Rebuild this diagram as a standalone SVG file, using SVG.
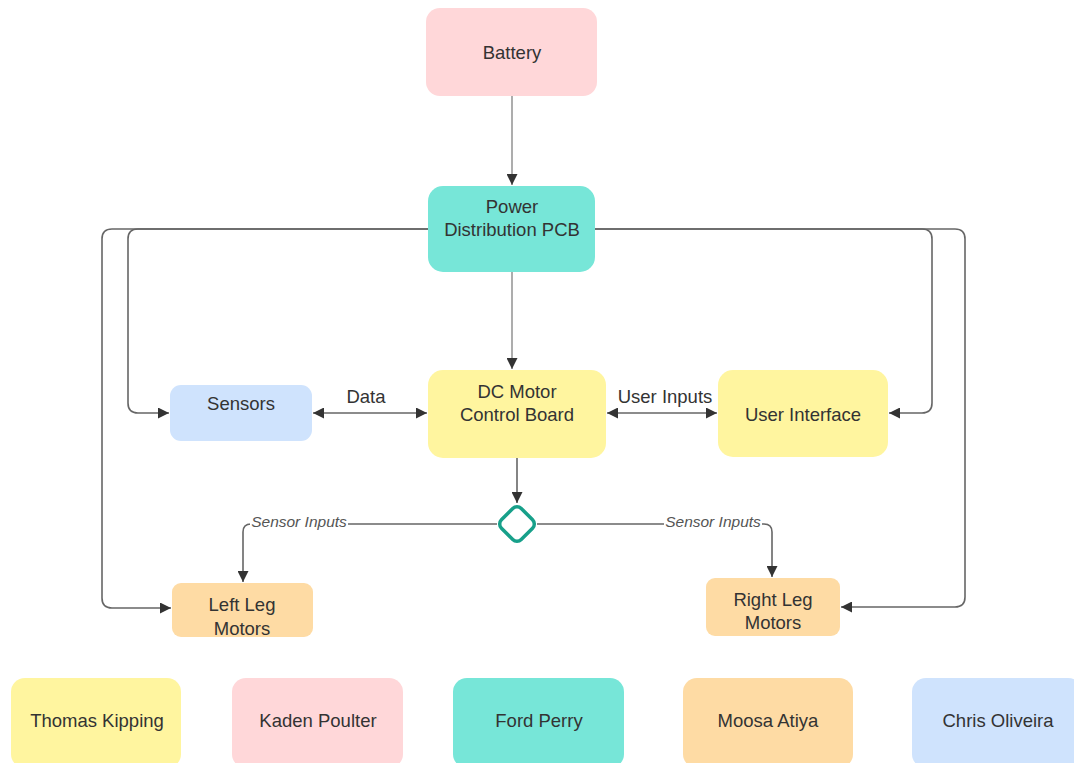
<svg xmlns="http://www.w3.org/2000/svg" width="1074" height="763" viewBox="0 0 1074 763">
<defs>
<style>
.lbl{font-family:"Liberation Sans",Arial,sans-serif;font-size:18.5px;fill:#333;text-anchor:middle;dominant-baseline:central}
.it{font-family:"Liberation Sans",Arial,sans-serif;font-size:15.5px;font-style:italic;fill:#555;text-anchor:middle;dominant-baseline:central}
.ln{fill:none;stroke:#666;stroke-width:1.6}
.lt{fill:none;stroke:#999;stroke-width:1.6}
.pink{fill:#ffd7d9}.teal{fill:#77e6d8}.yel{fill:#fff59f}.blue{fill:#cfe3fd}.org{fill:#fedba4}
</style>
<marker id="ah" viewBox="0 0 10 10" refX="10" refY="5" markerWidth="13" markerHeight="11" markerUnits="userSpaceOnUse" orient="auto-start-reverse">
<path d="M0,0 L10,5 L0,10 Z" fill="#333"/>
</marker>
</defs>
<rect width="1074" height="763" fill="#fff"/>
<g id="connectors">
<path class="lt" d="M512,96 L512,185" marker-end="url(#ah)"/>
<path class="lt" d="M512,272 L512,369" marker-end="url(#ah)"/>
<path class="ln" d="M428,229 L138,229 Q128,229 128,239 L128,403 Q128,413 138,413 L169,413" marker-end="url(#ah)"/>
<path class="ln" d="M428,229 L112,229 Q102,229 102,239 L102,598 Q102,608 112,608 L171,608" marker-end="url(#ah)"/>
<path class="ln" d="M595,229 L922,229 Q932,229 932,239 L932,403 Q932,413 922,413 L889,413" marker-end="url(#ah)"/>
<path class="ln" d="M595,229 L955,229 Q965,229 965,239 L965,597 Q965,607 955,607 L841,607" marker-end="url(#ah)"/>
<path class="ln" d="M313,413 L427,413" marker-start="url(#ah)" marker-end="url(#ah)"/>
<path class="ln" d="M607,413 L717,413" marker-start="url(#ah)" marker-end="url(#ah)"/>
<path class="ln" d="M517,458 L517,503" marker-end="url(#ah)"/>
<path class="ln" d="M497,524 L251,524 Q243,524 243,532 L243,582" marker-end="url(#ah)"/>
<path class="ln" d="M537,524 L764,524 Q772,524 772,532 L772,577" marker-end="url(#ah)"/>
<text class="lbl" x="366" y="396">Data</text>
<text class="lbl" x="665" y="396">User Inputs</text>
<rect x="250" y="514" width="98" height="14" fill="#fff"/>
<text class="it" x="299" y="521">Sensor Inputs</text>
<rect x="664" y="514" width="98" height="14" fill="#fff"/>
<text class="it" x="713" y="521">Sensor Inputs</text>
</g>
<g id="battery"><rect class="pink" x="426" y="8" width="171" height="88" rx="14"/><text class="lbl" x="512" y="52">Battery</text></g>
<g id="pcb"><rect class="teal" x="428" y="186" width="167" height="86" rx="15"/><text class="lbl" x="512" y="206">Power</text><text class="lbl" x="512" y="229">Distribution PCB</text></g>
<g id="dc"><rect class="yel" x="428" y="370" width="178" height="88" rx="15"/><text class="lbl" x="517" y="391">DC Motor</text><text class="lbl" x="517" y="414">Control Board</text></g>
<g id="sensors"><rect class="blue" x="170" y="385" width="142" height="56" rx="11"/><text class="lbl" x="241" y="403">Sensors</text></g>
<g id="ui"><rect class="yel" x="718" y="370" width="170" height="87" rx="15"/><text class="lbl" x="803" y="414">User Interface</text></g>
<g id="decision"><rect x="503" y="510" width="28" height="28" rx="6" fill="#fff" stroke="#17a08a" stroke-width="3.5" transform="rotate(45 517 524)"/></g>
<g id="leftleg"><rect class="org" x="172" y="583" width="141" height="54" rx="9"/><text class="lbl" x="242" y="604">Left Leg</text><text class="lbl" x="242" y="628">Motors</text></g>
<g id="rightleg"><rect class="org" x="706" y="578" width="134" height="58" rx="9"/><text class="lbl" x="773" y="599">Right Leg</text><text class="lbl" x="773" y="622">Motors</text></g>
<g id="thomas"><rect class="yel" x="11" y="678" width="170" height="90" rx="14"/><text class="lbl" x="97" y="720">Thomas Kipping</text></g>
<g id="kaden"><rect class="pink" x="232" y="678" width="171" height="90" rx="14"/><text class="lbl" x="318" y="720">Kaden Poulter</text></g>
<g id="ford"><rect class="teal" x="453" y="678" width="171" height="90" rx="14"/><text class="lbl" x="539" y="720">Ford Perry</text></g>
<g id="moosa"><rect class="org" x="683" y="678" width="170" height="90" rx="14"/><text class="lbl" x="768" y="720">Moosa Atiya</text></g>
<g id="chris"><rect class="blue" x="912" y="678" width="170" height="90" rx="14"/><text class="lbl" x="998" y="720">Chris Oliveira</text></g>
</svg>
